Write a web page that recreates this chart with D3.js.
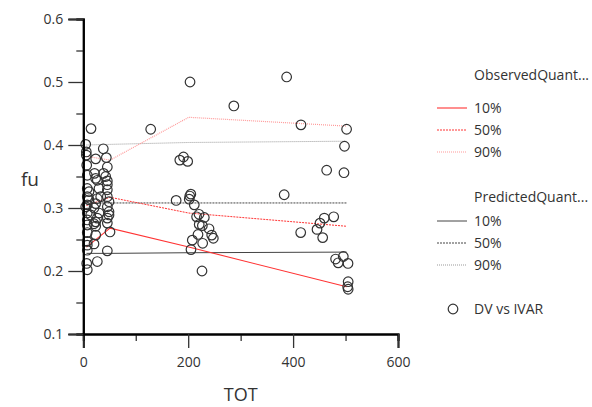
<!DOCTYPE html>
<html lang="en">
<head>
    <meta charset="UTF-8">
    <title>fu vs TOT quantile plot</title>
    <script src="https://cdn.jsdelivr.net/npm/d3@7/dist/d3.min.js"></script>
    <style>
        body { margin: 0; background: #fff; }
        text { font-family: "Open Sans", "Noto Sans", sans-serif; fill: #333; }
    </style>
</head>
<body>
<script>

    // observed points (TOT, fu)
    var dvTot = [14.7, 4.6, 38.1, 5.7, 5.7, 23.6, 43.9, 6.5, 45.8, 21.4, 38.6, 7.6, 23.6, 26.7, 42.7, 45.8, 45.8,
        7.6, 10.9, 29.9, 45.8, 7.6, 10.9, 26.7, 33.2, 45.8, 4.6, 7.6, 23.6, 20.4, 49, 45.8, 7.6, 14.1, 29.9, 49, 49,
        26.7, 23.6, 7.6, 45.8, 45.8, 7.6, 20.4, 23.6, 7.6, 23.6, 50.9, 7.6, 7.6, 20.4, 45.8, 7.6, 6.5, 7.6, 26.7,
        128.5, 203.5, 387.7, 287, 415, 502, 498, 191, 184, 199, 464, 497, 205, 177, 383,
        203, 202, 211.6, 220.6, 216, 230.7, 221, 227, 239.7, 244.8, 247.9, 218.7, 207.8, 227.6, 205.3, 226.3,
        414.5, 445.6, 451.3, 459.5, 477.4, 456.4, 481, 486, 495.7, 504.7, 505, 504, 505];
    var dvFu = [0.426, 0.401, 0.394, 0.389, 0.384, 0.378, 0.380, 0.368, 0.365, 0.355, 0.355, 0.352, 0.347, 0.344, 0.350, 0.343, 0.337,
        0.331, 0.326, 0.331, 0.329, 0.318, 0.313, 0.315, 0.318, 0.318, 0.302, 0.305, 0.307, 0.300, 0.310, 0.302, 0.292, 0.289, 0.292, 0.294, 0.289,
        0.284, 0.278, 0.281, 0.284, 0.276, 0.273, 0.275, 0.271, 0.261, 0.257, 0.262, 0.247, 0.241, 0.243, 0.232, 0.233, 0.212, 0.202, 0.215,
        0.425, 0.500, 0.508, 0.462, 0.432, 0.425, 0.398, 0.381, 0.376, 0.374, 0.360, 0.356, 0.322, 0.312, 0.321,
        0.319, 0.314, 0.305, 0.290, 0.286, 0.285, 0.274, 0.272, 0.267, 0.257, 0.252, 0.258, 0.249, 0.244, 0.234, 0.200,
        0.261, 0.266, 0.276, 0.284, 0.286, 0.253, 0.219, 0.213, 0.223, 0.212, 0.183, 0.175, 0.171];

    // quantile lines
    var binTot = [6, 51, 201, 502];
    var obs10 = [0.238, 0.268, 0.238, 0.175];
    var obs50 = [0.304, 0.317, 0.292, 0.271];
    var obs90 = [0.382, 0.376, 0.444, 0.430];
    var pred10 = [0.228, 0.228, 0.229, 0.230];
    var pred50 = [0.308, 0.308, 0.308, 0.308];
    var pred90 = [0.400, 0.401, 0.404, 0.406];

    var xTicks = [0, 200, 400, 600];
    var yTicks = [0.1, 0.2, 0.3, 0.4, 0.5, 0.6];

    var widthSVG = 592, heightSVG = 407;
    var svg = d3.select("body").append("svg")
                .attr("width", widthSVG)
                .attr("height", heightSVG);

    var scaleX = d3.scaleLinear().domain([0, 600]).range([83.3, 398]);
    var scaleY = d3.scaleLinear().domain([0.1, 0.6]).range([334, 19]);

    // lines first, circles on top
    var lineGen = function (vals){
        return d3.line()
                 .x(function (d, i){ return scaleX(binTot[i]); })
                 .y(function (d){ return scaleY(d); })(vals);
    };

    var series = [
        {vals: pred10, color: "#444", dash: null, w: 1},
        {vals: pred50, color: "#444", dash: "2,1", w: 1},
        {vals: pred90, color: "#999", dash: "1,1", w: 1},
        {vals: obs10, color: "#f33", dash: null, w: 1.1},
        {vals: obs50, color: "#f33", dash: "2,1", w: 1},
        {vals: obs90, color: "#f99", dash: "1,1", w: 1.2}
    ];

    svg.selectAll(".qline")
       .data(series)
       .enter()
       .append("path")
       .attr("class", "qline")
       .attr("fill", "none")
       .attr("stroke", function (d){ return d.color; })
       .attr("stroke-width", function (d){ return d.w; })
       .attr("stroke-dasharray", function (d){ return d.dash; })
       .attr("d", function (d){ return lineGen(d.vals); });

    svg.selectAll(".dot")
       .data(dvTot)
       .enter()
       .append("circle")
       .attr("class", "dot")
       .attr("cx", function (d){ return scaleX(d); })
       .attr("cy", function (d, i){ return scaleY(dvFu[i]); })
       .attr("r", 4.8)
       .attr("fill", "none")
       .attr("stroke", "#333")
       .attr("stroke-width", 1.2);

    // axes: major + minor ticks
    var axisX = d3.axisBottom(scaleX).tickValues(xTicks).tickSize(14).tickPadding(9).tickFormat(d3.format("d"));
    var axisXMinor = d3.axisBottom(scaleX).tickValues([100, 300, 500]).tickSize(7).tickFormat("");
    var axisY = d3.axisLeft(scaleY).tickValues(yTicks).tickSize(15).tickPadding(5).tickFormat(d3.format(".1f"));
    var axisYMinor = d3.axisLeft(scaleY).tickValues([0.15, 0.25, 0.35, 0.45, 0.55]).tickSize(7).tickFormat("");

    function styleAxis(g){
        g.select(".domain").attr("stroke", "#000").attr("stroke-width", 2);
        g.selectAll(".tick line").attr("stroke", "#333").attr("stroke-width", 1.3);
        g.selectAll(".tick text").attr("font-size", "14px").attr("fill", "#333")
         .style("font-family", "'Open Sans', 'Noto Sans', sans-serif");
    }

    svg.append("g").attr("transform", "translate(0,334)").call(axisXMinor).call(styleAxis);
    svg.append("g").attr("transform", "translate(0,334)").call(axisX).call(styleAxis);
    svg.append("g").attr("transform", "translate(83.3,0)").call(axisYMinor).call(styleAxis);
    svg.append("g").attr("transform", "translate(83.3,0)").call(axisY).call(styleAxis);

    // axis titles
    svg.append("text").attr("x", scaleX(300)).attr("y", 401).attr("text-anchor", "middle")
       .attr("font-size", "18px").text("TOT");
    svg.append("text").attr("x", 30).attr("y", 186).attr("text-anchor", "middle")
       .attr("font-size", "19px").text("fu");

    // legend
    var legend = svg.append("g");
    var legX1 = 437, legX2 = 467, legTx = 474;
    var legRows = [
        {y: 75, label: "ObservedQuant...", line: null},
        {y: 108, label: "10%", line: series[3]},
        {y: 130, label: "50%", line: series[4]},
        {y: 152, label: "90%", line: series[5]},
        {y: 197, label: "PredictedQuant...", line: null},
        {y: 221, label: "10%", line: series[0]},
        {y: 243, label: "50%", line: series[1]},
        {y: 265, label: "90%", line: series[2]},
        {y: 309, label: "DV vs IVAR", line: null}
    ];

    legend.selectAll(".legtext")
          .data(legRows)
          .enter()
          .append("text")
          .attr("x", legTx)
          .attr("y", function (d){ return d.y; })
          .attr("dy", "0.35em")
          .attr("font-size", "14px")
          .text(function (d){ return d.label; });

    legend.selectAll(".legline")
          .data(legRows.filter(function (d){ return d.line; }))
          .enter()
          .append("line")
          .attr("x1", legX1).attr("x2", legX2)
          .attr("y1", function (d){ return d.y; })
          .attr("y2", function (d){ return d.y; })
          .attr("stroke", function (d){ return d.line.color; })
          .attr("stroke-width", function (d){ return d.line.w; })
          .attr("stroke-dasharray", function (d){ return d.line.dash; });

    legend.append("circle")
          .attr("cx", 453).attr("cy", 309).attr("r", 4.8)
          .attr("fill", "none").attr("stroke", "#333").attr("stroke-width", 1.2);
</script>
</body>
</html>
